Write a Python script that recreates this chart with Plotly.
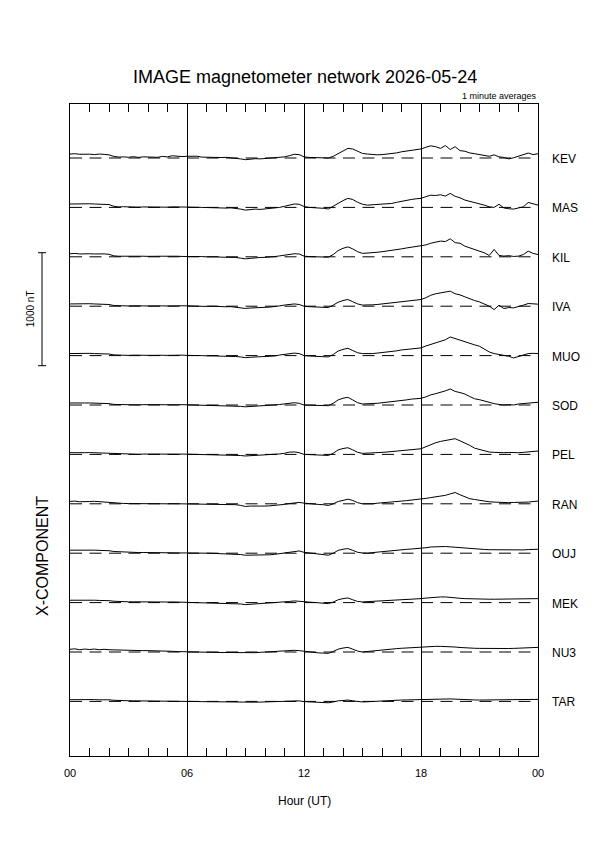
import numpy as np
import plotly.graph_objects as go

# ---------------- data ----------------
TITLE = "IMAGE magnetometer network 2026-05-24"
SUBTITLE = "1 minute averages"
COMPONENT = "X-COMPONENT"
SCALE_LABEL = "1000 nT"
SCALE_NT = 1000
X_LABEL = "Hour (UT)"
TICK_HOURS = [0, 6, 12, 18, 24]
TICK_TEXT = ["00", "06", "12", "18", "00"]

STATIONS = ["KEV", "MAS", "KIL", "IVA", "MUO", "SOD", "PEL", "RAN", "OUJ", "MEK", "NU3", "TAR"]

# time samples, hours UT (15-minute steps)
TIME_H = np.arange(0, 24.001, 0.25)

# X deviations from the baseline in nT, 15-minute samples (4 per hour + 24:00)
KEV = [35, 38, 33, 36, 34, 30, 35, 32, 28, 14, 8, 10, 6, 12, 5, 10, 8, 12, 6, 14,
       10, 20, 15, 12, 15, 14, 16, 8, 6, 5, 8, 4, 6, 3, 0, -8, -15, -10, -6, -8,
       -5, -2, 0, 5, 10, 20, 33, 30, 10, 5, 4, 6, 2, 0, 15, 40, 60, 85, 80, 60,
       40, 35, 30, 28, 30, 35, 38, 45, 55, 62, 68, 75, 80, 95, 108, 100, 85, 110, 75, 100,
       65, 60, 45, 38, 30, 25, 15, 28, 10, 5, -8, 2, 15, 28, 44, 30, 38]
MAS = [30, 32, 28, 30, 32, 30, 28, 30, 25, 10, 4, 6, 3, 5, 2, 4, 3, 5, 2, 4,
       2, 5, 3, 4, 2, 3, 1, 0, -2, 0, -3, -5, -6, -4, -8, -15, -24, -20, -15, -18,
       -15, -12, -9, 0, 10, 22, 30, 28, 8, 0, -2, -3, -8, -14, 10, 40, 60, 80, 70, 45,
       28, 20, 22, 25, 28, 30, 35, 45, 55, 62, 70, 76, 80, 95, 108, 105, 112, 100, 124, 98,
       85, 65, 55, 42, 30, 20, 5, 0, 28, -5, -12, -15, -5, 5, 44, 35, 20]
KIL = [27, 30, 25, 28, 27, 25, 28, 26, 22, 8, 5, 6, 4, 6, 3, 5, 4, 6, 3, 5,
       5, 8, 5, 3, 4, 5, 3, 2, 0, 2, 0, -3, -4, -3, -6, -12, -18, -14, -8, -6,
       -5, -3, 2, 8, 15, 20, 27, 25, 6, 2, 0, -2, -3, -3, 20, 55, 75, 88, 70, 45,
       30, 32, 36, 40, 45, 50, 55, 62, 70, 78, 85, 90, 94, 105, 120, 130, 139, 135, 159, 125,
       120, 94, 80, 65, 50, 35, 12, 65, 12, 6, 10, 3, 6, 20, 50, 30, 20]
IVA = [20, 22, 18, 20, 22, 20, 18, 20, 15, 6, 3, 5, 2, 4, 1, 3, 2, 4, 1, 3,
       2, 5, 3, 4, 2, 3, 1, 0, -2, 0, -3, -5, -5, -4, -8, -14, -20, -16, -12, -12,
       -10, -8, -5, 3, 10, 15, 20, 15, 0, -4, -6, -8, -10, -12, 10, 35, 50, 59, 40, 20,
       10, 9, 12, 15, 20, 24, 30, 38, 45, 50, 55, 58, 59, 75, 97, 110, 118, 127, 133, 110,
       100, 83, 65, 50, 38, 20, 0, -30, 9, -21, -12, -15, -5, 9, 24, 20, 18]
MUO = [18, 20, 16, 18, 20, 18, 16, 18, 14, 6, 3, 4, 2, 4, 1, 3, 2, 4, 1, 3,
       2, 4, 3, 4, 2, 3, 1, 0, -2, 0, -3, -5, -5, -4, -8, -12, -18, -15, -10, -10,
       -8, -6, -3, 5, 12, 18, 22, 18, 0, -3, -5, -8, -10, -12, 10, 40, 55, 65, 45, 25,
       18, 15, 18, 22, 26, 30, 35, 42, 50, 56, 62, 65, 68, 85, 100, 112, 125, 140, 165, 150,
       135, 127, 110, 95, 83, 60, 32, 18, 10, 0, -6, -21, -10, 6, 18, 20, 18]
SOD = [18, 20, 16, 18, 18, 16, 15, 16, 12, 5, 3, 4, 2, 3, 1, 3, 2, 3, 1, 2,
       2, 3, 2, 3, 2, 2, 1, 0, -2, -1, -3, -5, -5, -4, -8, -12, -16, -14, -10, -10,
       -8, -5, -2, 4, 10, 18, 20, 15, 0, -2, -4, -5, -6, -6, 15, 45, 60, 68, 45, 20,
       9, 10, 12, 15, 20, 24, 28, 34, 40, 45, 52, 56, 59, 72, 90, 100, 110, 125, 142, 120,
       110, 97, 75, 55, 47, 35, 18, 12, 5, 0, 3, 0, 9, 12, 18, 20, 24]
PEL = [15, 17, 14, 15, 16, 14, 13, 14, 10, 5, 3, 4, 2, 3, 1, 3, 2, 3, 1, 2,
       2, 3, 2, 3, 2, 2, 1, 0, -2, -1, -3, -4, -4, -3, -6, -10, -14, -12, -8, -8,
       -6, -4, -2, 4, 10, 20, 22, 15, 0, -3, -5, -6, -8, -9, 10, 40, 52, 59, 40, 18,
       9, 10, 12, 15, 18, 21, 25, 30, 35, 40, 45, 48, 50, 68, 88, 103, 115, 125, 135, 139,
       120, 103, 80, 55, 44, 32, 21, 18, 15, 15, 17, 14, 15, 18, 21, 25, 30]
RAN = [21, 24, 18, 22, 20, 22, 18, 20, 15, 8, 4, 3, 2, 1, 0, 1, 0, 1, -1, 0,
       0, 1, 0, 1, 0, -1, -1, -3, -3, -2, -4, -6, -6, -5, -8, -14, -24, -20, -22, -24,
       -20, -18, -15, -10, -5, 2, 8, 12, 6, 0, -4, -6, -8, -15, 0, 20, 30, 41, 30, 10,
       0, -3, 0, 5, 10, 14, 17, 21, 24, 28, 32, 36, 41, 48, 55, 60, 65, 75, 88, 100,
       80, 60, 45, 38, 30, 22, 18, 15, 12, 12, 10, 12, 12, 14, 15, 20, 24]
OUJ = [27, 28, 25, 27, 26, 27, 25, 26, 22, 15, 12, 10, 8, 7, 6, 6, 6, 5, 6, 5,
       5, 6, 5, 4, 4, 3, 2, 1, 0, -1, -2, -4, -5, -6, -8, -12, -18, -18, -17, -18,
       -16, -14, -10, -5, 0, 8, 15, 20, 8, 2, -2, -6, -10, -18, 0, 25, 35, 41, 25, 8,
       2, 0, 5, 10, 15, 20, 24, 27, 30, 34, 37, 40, 42, 48, 55, 58, 58, 59, 56, 52,
       50, 46, 42, 38, 35, 33, 31, 30, 28, 28, 27, 27, 27, 29, 32, 34, 35]
MEK = [21, 22, 20, 21, 20, 21, 19, 20, 17, 12, 9, 8, 7, 7, 6, 6, 6, 6, 5, 6,
       5, 6, 5, 5, 4, 3, 2, 1, 0, -1, -2, -4, -5, -6, -8, -12, -18, -15, -12, -10,
       -9, -8, -5, 0, 5, 10, 15, 12, 6, 2, -2, -5, -7, -9, 5, 25, 35, 41, 25, 10,
       6, 8, 10, 12, 15, 18, 21, 24, 26, 29, 32, 34, 35, 40, 45, 48, 50, 50, 48, 42,
       38, 35, 33, 32, 31, 30, 30, 30, 30, 30, 30, 31, 32, 33, 34, 35, 35]
NU3 = [24, 28, 20, 26, 22, 26, 20, 24, 20, 18, 16, 15, 14, 13, 12, 12, 12, 12, 11, 10,
       8, 6, 4, 2, 1, 0, 0, -1, -2, -3, -4, -5, -6, -6, -7, -8, -9, -8, -6, -3,
       0, 2, 5, 8, 10, 12, 15, 12, 6, 0, -5, -8, -10, -12, 5, 25, 35, 41, 25, 8,
       0, 5, 10, 15, 20, 24, 27, 30, 33, 36, 40, 43, 45, 47, 49, 50, 50, 50, 48, 44,
       40, 36, 34, 33, 32, 31, 30, 30, 30, 30, 31, 32, 33, 35, 37, 39, 41]
TAR = [15, 16, 14, 15, 15, 16, 14, 15, 14, 10, 7, 6, 6, 5, 5, 4, 4, 3, 3, 2,
       2, 2, 1, 1, 0, 0, -1, -2, -3, -3, -4, -5, -6, -7, -8, -8, -9, -8, -7, -6,
       -5, -4, -2, 0, 2, 4, 6, 5, -2, -5, -7, -9, -10, -12, -5, 5, 8, 12, 5, -3,
       -5, -3, 0, 2, 5, 7, 9, 11, 12, 13, 14, 15, 16, 18, 21, 24, 25, 24, 22, 20,
       17, 15, 14, 13, 12, 12, 12, 12, 12, 13, 13, 14, 14, 15, 16, 17, 18]

SERIES = [KEV, MAS, KIL, IVA, MUO, SOD, PEL, RAN, OUJ, MEK, NU3, TAR]

# ---------------- layout geometry ----------------
W, H = 595, 842
PAGE_PAD = 8                              # default page margin around the figure div
L, R, T, B = 70, 538, 104, 756            # plot frame in page pixels
PX_PER_NT = 113.0 / 1000.0                # 1000 nT bar is 113 px tall
STATION_GAP_PX = 49.4
FIRST_BASE_PX = 158.0

def nt_at_px(ypx):
    return (FIRST_BASE_PX - ypx) / PX_PER_NT

Y_TOP = nt_at_px(T)
Y_BOT = nt_at_px(B)
GAP_NT = STATION_GAP_PX / PX_PER_NT

def px_x(xpx):
    return (xpx - L) / (R - L)

def px_y(ypx):
    return (B - ypx) / (B - T)

FONT = "Liberation Sans, Arial, Helvetica, sans-serif"

fig = go.Figure()
annotations = []
for i, (name, vals) in enumerate(zip(STATIONS, SERIES)):
    off = -i * GAP_NT
    fig.add_trace(go.Scatter(
        x=[0, 24], y=[off, off], mode="lines",
        line=dict(color="black", width=1, dash="12px,7.5px"),
        hoverinfo="skip", showlegend=False))
    fig.add_trace(go.Scatter(
        x=TIME_H, y=np.array(vals, dtype=float) + off, mode="lines",
        line=dict(color="black", width=1), name=name, showlegend=False))
    annotations.append(dict(
        x=px_x(550), y=off, xref="paper", yref="y", text=name,
        showarrow=False, xanchor="left", yanchor="middle",
        font=dict(family=FONT, size=12, color="black"), yshift=-1))

# scale bar
bar_top = nt_at_px(252.7)
bar_bot = bar_top - SCALE_NT
shapes = [
    dict(type="line", xref="paper", yref="y", x0=px_x(42), x1=px_x(42), y0=bar_bot, y1=bar_top,
         line=dict(color="black", width=1)),
    dict(type="line", xref="paper", yref="y", x0=px_x(38), x1=px_x(46), y0=bar_top, y1=bar_top,
         line=dict(color="black", width=1)),
    dict(type="line", xref="paper", yref="y", x0=px_x(38), x1=px_x(46), y0=bar_bot, y1=bar_bot,
         line=dict(color="black", width=1)),
]

annotations += [
    dict(x=px_x(305), y=px_y(77), xref="paper", yref="paper", text=TITLE, showarrow=False,
         xanchor="center", yanchor="middle", font=dict(family=FONT, size=18, color="black")),
    dict(x=px_x(539), y=px_y(96), xref="paper", yref="paper", text=SUBTITLE, showarrow=False,
         xanchor="right", yanchor="middle", font=dict(family=FONT, size=9, color="black")),
    dict(x=px_x(30), y=(bar_top + bar_bot) / 2, xref="paper", yref="y", text=SCALE_LABEL,
         showarrow=False, textangle=-90, xanchor="center", yanchor="middle",
         font=dict(family=FONT, size=10, color="black")),
    dict(x=px_x(42), y=px_y(556), xref="paper", yref="paper", text=COMPONENT,
         showarrow=False, textangle=-90, xanchor="center", yanchor="middle",
         font=dict(family=FONT, size=16, color="black")),
    dict(x=px_x(304), y=px_y(801), xref="paper", yref="paper", text=X_LABEL,
         showarrow=False, xanchor="center", yanchor="middle",
         font=dict(family=FONT, size=12, color="black")),
]

fig.update_layout(
    width=W, height=H, autosize=False,
    margin=dict(l=L - PAGE_PAD, r=W - (R - PAGE_PAD), t=T - PAGE_PAD, b=H - (B - PAGE_PAD), pad=0),
    paper_bgcolor="white", plot_bgcolor="white",
    shapes=shapes, annotations=annotations,
    xaxis=dict(range=[0, 24], tickvals=TICK_HOURS, ticktext=TICK_TEXT,
               showgrid=True, gridcolor="black", gridwidth=1,
               zeroline=False, showline=True, linecolor="black", linewidth=1, mirror="ticks",
               ticks="inside", ticklen=8, tickcolor="black", tickwidth=1,
               ticklabelstandoff=7,
               minor=dict(dtick=1, ticks="inside", ticklen=8, tickcolor="black", tickwidth=1,
                          showgrid=False),
               tickfont=dict(family=FONT, size=11, color="black")),
    yaxis=dict(range=[Y_BOT, Y_TOP], showgrid=False, zeroline=False, showticklabels=False,
               ticks="", showline=True, linecolor="black", linewidth=1, mirror=True),
)

fig.write_html("out.html")
